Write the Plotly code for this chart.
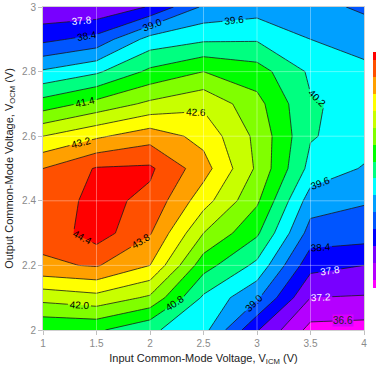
import numpy as np
import plotly.graph_objects as go

# Grid of the measurement: input common-mode voltage (V) vs output common-mode voltage (V)
v_icm = [1.0, 1.5, 2.0, 2.5, 3.0, 3.5, 4.0]
v_ocm = [2.0, 2.1, 2.2, 2.3, 2.4, 2.5, 2.6, 2.7, 2.8, 2.9, 3.0]

# One row per output common-mode voltage, one value per input common-mode voltage
row_200 = [40.85, 40.90, 40.30, 39.80, 37.85, 36.40, 36.35]
row_210 = [42.20, 42.40, 41.90, 40.10, 39.10, 37.20, 37.15]
row_220 = [43.70, 43.85, 43.20, 41.05, 40.05, 38.00, 37.80]
row_230 = [44.00, 44.70, 43.85, 42.00, 40.90, 38.75, 38.70]
row_240 = [44.00, 44.60, 44.25, 42.85, 41.50, 39.30, 39.05]
row_250 = [43.80, 44.45, 44.50, 43.45, 41.90, 40.00, 39.55]
row_260 = [42.60, 43.10, 43.55, 43.00, 41.85, 40.25, 39.90]
row_270 = [41.07, 41.60, 42.13, 42.48, 41.60, 40.25, 40.05]
row_280 = [39.68, 40.10, 40.93, 41.40, 41.07, 40.10, 39.75]
row_290 = [38.25, 38.60, 39.83, 40.10, 40.14, 39.60, 39.35]
row_300 = [37.30, 37.30, 37.85, 39.10, 39.32, 39.20, 38.90]
z_rows = [row_200, row_210, row_220, row_230, row_240, row_250,
          row_260, row_270, row_280, row_290, row_300]

level_start, level_end, level_step = 36.6, 44.4, 0.6

# Band colours from lowest to highest
band_colors = ["#ff00ff", "#b400ff", "#7800ff", "#0000ff", "#0055ff",
               "#00a0ff", "#00ffff", "#00ff80", "#00ff00", "#80ff00",
               "#c8ff00", "#ffff00", "#ffa000", "#ff5000", "#ff0000"]
colorscale = [[i / (len(band_colors) - 1), c] for i, c in enumerate(band_colors)]

x_ticks = [1, 1.5, 2, 2.5, 3, 3.5, 4]
x_ticktext = ["1", "1.5", "2", "2.5", "3", "3.5", "4"]
y_ticks = [2, 2.2, 2.4, 2.6, 2.8, 3]
y_ticktext = ["2", "2.2", "2.4", "2.6", "2.8", "3"]

FONT = "Liberation Sans, Arial, sans-serif"
LINE_COLOR = "#1a1a1a"

fig = go.Figure()

# Filled bands with the colour bar
fig.add_trace(go.Contour(
    x=v_icm, y=v_ocm, z=z_rows,
    colorscale=colorscale,
    contours=dict(start=level_start, end=level_end, size=level_step,
                  coloring="fill", showlines=False),
    line=dict(width=0, smoothing=0),
    colorbar=dict(x=1.028, xanchor="left", xpad=0, y=0.495, yanchor="middle",
                  len=0.73, ypad=0, thickness=12, outlinewidth=0,
                  showticklabels=False, ticks=""),
    hoverinfo="skip",
))


def labelled_lines(start, end, label_color):
    return go.Contour(
        x=v_icm, y=v_ocm, z=z_rows,
        showscale=False,
        contours=dict(start=start, end=end, size=level_step, coloring="none",
                      showlabels=True, labelformat=".1f",
                      labelfont=dict(family=FONT, size=10, color=label_color)),
        line=dict(color=LINE_COLOR, width=0.8, smoothing=0),
        hoverinfo="skip",
    )


fig.add_trace(labelled_lines(38.4, 44.4, "black"))
fig.add_trace(labelled_lines(37.2, 37.8, "white"))
fig.add_trace(labelled_lines(36.6, 36.6, "#222222"))

# The lowest level is too short for an automatic label: place it on the line
# where it runs along the bottom right, between the two rightmost columns.
lab_x = 3.8
z_at_x = [np.interp(lab_x, v_icm, row) for row in z_rows[:2]]
lab_y = float(np.interp(level_start, z_at_x, v_ocm[:2]))
fig.add_annotation(x=lab_x, y=lab_y, text=f"{level_start:.1f}", showarrow=False,
                   font=dict(family=FONT, size=10, color="#222222"),
                   bgcolor="#d800ff", borderpad=0)

# Faint grid drawn over the filled bands
grid = dict(color="rgba(255,255,255,0.35)", width=1)
for xv in x_ticks[1:-1]:
    fig.add_shape(type="line", x0=xv, x1=xv, y0=0, y1=1, xref="x", yref="paper",
                  line=grid, layer="above")
for yv in y_ticks[1:-1]:
    fig.add_shape(type="line", x0=0, x1=1, y0=yv, y1=yv, xref="paper", yref="y",
                  line=grid, layer="above")

axis_common = dict(showgrid=False, zeroline=False, showline=True,
                   linecolor="#d0d0d0", linewidth=1, mirror=True,
                   ticks="outside", ticklen=4, tickcolor="#c0c0c0",
                   tickfont=dict(family=FONT, size=10, color="#8a8a8a"))

fig.update_xaxes(range=[1, 4], tickvals=x_ticks, ticktext=x_ticktext,
                 title=dict(text="Input Common-Mode Voltage, V<sub>ICM</sub> (V)",
                            font=dict(family=FONT, size=11, color="#222222"),
                            standoff=6),
                 **axis_common)
fig.update_yaxes(range=[2, 3], tickvals=y_ticks, ticktext=y_ticktext,
                 title=dict(text="Output Common-Mode Voltage, V<sub>OCM</sub> (V)",
                            font=dict(family=FONT, size=11, color="#222222"),
                            standoff=6),
                 **axis_common)

fig.update_layout(
    width=376, height=366,
    margin=dict(l=43, r=12, t=7, b=36, autoexpand=False),
    paper_bgcolor="white", plot_bgcolor="white",
    font=dict(family=FONT),
    showlegend=False,
)

fig.write_html("out.html")
